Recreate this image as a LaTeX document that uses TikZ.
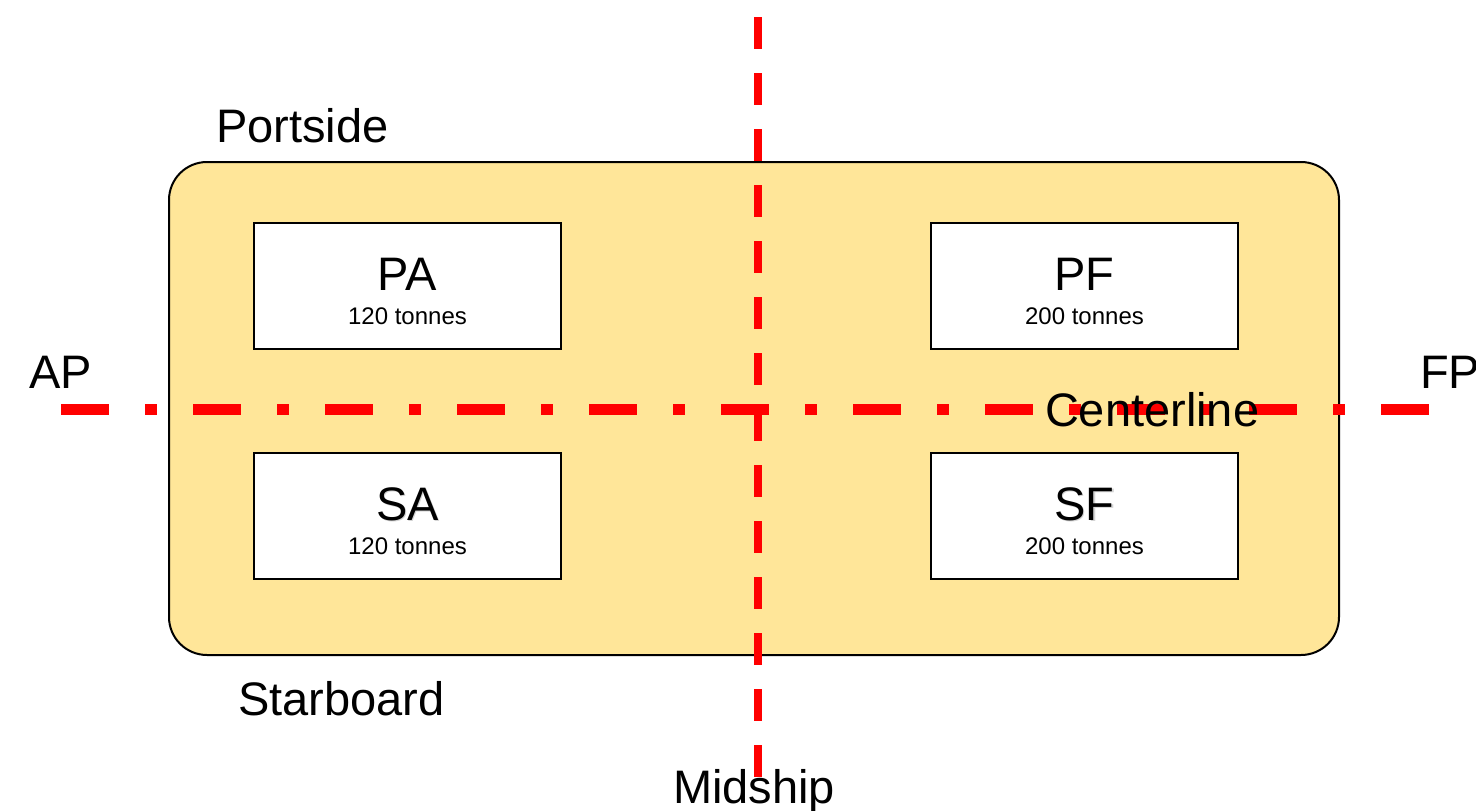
\documentclass[tikz,border=0pt]{standalone}
\usepackage{fontspec}
\setmainfont{Liberation Sans}
\definecolor{hullfill}{HTML}{FFE699}
\definecolor{linered}{HTML}{FF0000}
\definecolor{shadowgray}{HTML}{D4D4D4}
\begin{document}
\begin{tikzpicture}[x=1pt,y=-1pt,
  hull/.style={draw=black,line width=2pt,fill=hullfill,rounded corners=38pt},
  tank/.style={draw=black,line width=2pt,fill=white,minimum width=307pt,minimum height=126pt,inner sep=0pt,outer sep=0pt},
  bigtext/.style={font=\fontsize{47}{56}\selectfont,inner sep=0pt,outer sep=0pt},
  smalltext/.style={font=\fontsize{24}{28}\selectfont,inner sep=0pt,outer sep=0pt,anchor=base},
  centerl/.style={draw=linered,line width=11pt,line cap=butt,dash pattern=on 48pt off 36pt on 12pt off 36pt},
  midl/.style={draw=linered,line width=8pt,line cap=butt,dash pattern=on 32pt off 24pt}
]
\useasboundingbox (0,0) rectangle (1476,811);
% hull
\draw[hull] (169,162) rectangle (1339,655);
% tanks
\node[tank] (PA) at (407.5,286) {};
\node[tank] (PF) at (1084.5,286) {};
\node[tank] (SA) at (407.5,516) {};
\node[tank] (SF) at (1084.5,516) {};
% tank labels
\node[bigtext,anchor=base] (PAt) at (407.5,290) {PA};
\node[smalltext] (PAw) at (407.5,324) {120 tonnes};
\node[bigtext,anchor=base] (PFt) at (1084.5,290) {PF};
\node[smalltext] (PFw) at (1084.5,324) {200 tonnes};
\node[bigtext,anchor=base,text=shadowgray] (SAs) at (408.8,521.3) {SA};
\node[bigtext,anchor=base] (SAt) at (407.5,520) {SA};
\node[smalltext] (SAw) at (407.5,554) {120 tonnes};
\node[bigtext,anchor=base,text=shadowgray] (SFs) at (1085.8,521.3) {SF};
\node[bigtext,anchor=base] (SFt) at (1084.5,520) {SF};
\node[smalltext] (SFw) at (1084.5,554) {200 tonnes};
% reference lines
\coordinate (APend) at (61,409);
\coordinate (FPend) at (1429,409);
\coordinate (MStop) at (758,17);
\coordinate (MSbot) at (758,777);
\draw[centerl] (APend) -- (FPend);
\draw[midl] (MStop) -- (MSbot);
% labels
\node[bigtext,anchor=base west] (port) at (216,142) {Portside};
\node[bigtext,anchor=base west] (star) at (238,715) {Starboard};
\node[bigtext,anchor=base west] (ap) at (29,388) {AP};
\node[bigtext,anchor=base west] (fp) at (1420,388) {FP};
\node[bigtext,anchor=base west] (cl) at (1045,426) {Centerline};
\node[bigtext,anchor=base] (ms) at (754,803) {Midship};
\end{tikzpicture}
\end{document}
